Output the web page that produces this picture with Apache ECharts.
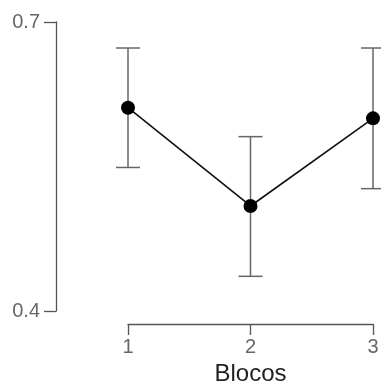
<!DOCTYPE html>
<html>
<head>
<meta charset="utf-8">
<script src="https://cdn.jsdelivr.net/npm/echarts@6/dist/echarts.min.js"></script>
<style>
  html, body {margin: 0; padding: 0; background: #fff;}
  #chart {width: 381px; height: 381px;}
</style>
</head>
<body>
<div id="chart"></div>
<script>
// blocos e medias com intervalo
const blocos = [1, 2, 3];
const medias = [0.611, 0.509, 0.600];
const inferior = [0.549, 0.436, 0.527];
const superior = [0.673, 0.581, 0.673];
const yTicks = [0.4, 0.7];

const myChart = echarts.init(document.getElementById('chart'));
const gray = '#555';
const textColor = '#666';

let barras = [];
for (let i = 0; i < blocos.length; i++) {
  barras.push([blocos[i], inferior[i], superior[i]]);
}
let pontos = [];
for (let i = 0; i < blocos.length; i++) {
  pontos.push([blocos[i], medias[i]]);
}

const option = {
  backgroundColor: '#fff',
  animation: false,
  grid: {left: 128, right: 8, top: 22, bottom: 70, outerBoundsMode: 'none'},
  xAxis: {
    type: 'value',
    min: 1,
    max: 3,
    interval: 1,
    offset: 13,
    name: 'Blocos',
    nameLocation: 'middle',
    nameGap: 33,
    nameTextStyle: {color: '#222', fontSize: 24, fontFamily: 'Liberation Sans'},
    splitLine: {show: false},
    axisLine: {lineStyle: {color: gray, width: 1.3}},
    axisTick: {inside: false, length: 11, lineStyle: {color: gray, width: 1.3}},
    axisLabel: {margin: 13, color: textColor, fontSize: 20, fontFamily: 'Liberation Sans'}
  },
  yAxis: {
    type: 'value',
    min: 0.4,
    max: 0.7,
    offset: 72,
    splitLine: {show: false},
    axisLine: {show: true, lineStyle: {color: gray, width: 1.3}},
    axisTick: {show: true, inside: false, length: 12, customValues: yTicks, lineStyle: {color: gray, width: 1.3}},
    axisLabel: {margin: 16, customValues: yTicks, color: textColor, fontSize: 20, fontFamily: 'Liberation Sans',
      formatter: (v) => v.toFixed(1)}
  },
  series: [
    {
      type: 'custom',
      data: barras,
      z: 1,
      renderItem: (params, api) => {
        const x = api.value(0);
        const low = api.coord([x, api.value(1)]);
        const high = api.coord([x, api.value(2)]);
        const w = 12;
        const style = {stroke: '#666', lineWidth: 1.5};
        return {
          type: 'group',
          children: [
            {type: 'line', shape: {x1: low[0], y1: low[1], x2: high[0], y2: high[1]}, style: style},
            {type: 'line', shape: {x1: low[0] - w, y1: low[1], x2: low[0] + w, y2: low[1]}, style: style},
            {type: 'line', shape: {x1: high[0] - w, y1: high[1], x2: high[0] + w, y2: high[1]}, style: style}
          ]
        };
      }
    },
    {
      type: 'line',
      data: pontos,
      z: 2,
      symbol: 'circle',
      symbolSize: 14,
      itemStyle: {color: '#000'},
      lineStyle: {color: '#111', width: 1.6}
    }
  ]
};
myChart.setOption(option);
</script>
</body>
</html>
